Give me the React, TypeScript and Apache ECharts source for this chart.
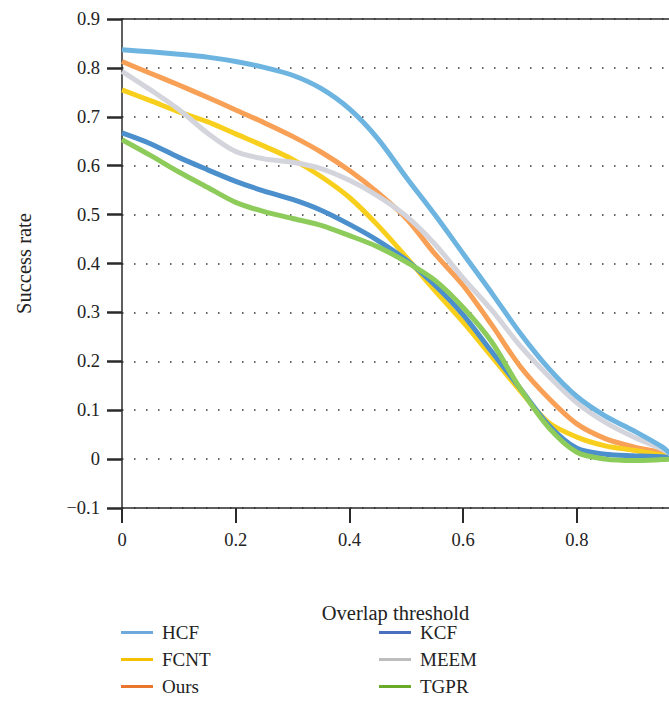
import React, { useEffect, useRef } from "react";
import * as echarts from "echarts";

const xValues = [0, 0.05, 0.1, 0.15, 0.2, 0.25, 0.3, 0.35, 0.4, 0.45, 0.5, 0.55, 0.6, 0.65, 0.7, 0.75, 0.8, 0.85, 0.9, 0.95, 0.965];

const hcf = [0.837, 0.833, 0.828, 0.822, 0.813, 0.801, 0.785, 0.758, 0.716, 0.655, 0.576, 0.5, 0.42, 0.34, 0.258, 0.186, 0.128, 0.088, 0.058, 0.025, 0.01];
const ours = [0.813, 0.789, 0.765, 0.74, 0.714, 0.688, 0.66, 0.628, 0.59, 0.545, 0.492, 0.42, 0.355, 0.275, 0.19, 0.125, 0.072, 0.042, 0.025, 0.013, 0.008];
const meem = [0.793, 0.755, 0.715, 0.667, 0.629, 0.614, 0.607, 0.594, 0.57, 0.538, 0.497, 0.44, 0.37, 0.305, 0.232, 0.17, 0.115, 0.075, 0.045, 0.02, 0.01];
const fcnt = [0.755, 0.733, 0.71, 0.69, 0.665, 0.64, 0.613, 0.578, 0.535, 0.478, 0.413, 0.345, 0.28, 0.21, 0.14, 0.075, 0.045, 0.027, 0.018, 0.008, 0.005];
const kcf = [0.667, 0.645, 0.617, 0.592, 0.568, 0.548, 0.531, 0.509, 0.48, 0.447, 0.407, 0.356, 0.295, 0.22, 0.145, 0.07, 0.022, 0.01, 0.007, 0.005, 0.004];
const tgpr = [0.653, 0.621, 0.587, 0.556, 0.525, 0.506, 0.492, 0.478, 0.457, 0.434, 0.403, 0.366, 0.31, 0.24, 0.145, 0.065, 0.014, 0.0, -0.003, -0.001, 0.0];

const legendLeftNames = ["HCF", "FCNT", "Ours"];
const legendRightNames = ["KCF", "MEEM", "TGPR"];
const lineColors: Record<string, string> = {
  HCF: "#6db5e0",
  FCNT: "#f9cf1e",
  Ours: "#f8a055",
  KCF: "#4b8fcc",
  MEEM: "#d4d4dc",
  TGPR: "#8dcc5a",
};
const legendColors: Record<string, string> = {
  HCF: "#6fa8dc",
  FCNT: "#f5c000",
  Ours: "#e8762d",
  KCF: "#4a6fbf",
  MEEM: "#bdbdbd",
  TGPR: "#6aaa2a",
};
const dataByName: Record<string, number[]> = { HCF: hcf, FCNT: fcnt, Ours: ours, KCF: kcf, MEEM: meem, TGPR: tgpr };
const drawOrder = ["Ours", "FCNT", "KCF", "MEEM", "TGPR", "HCF"];

const FONT = "'Liberation Serif', 'DejaVu Serif', serif";

export default function App() {
  const ref = useRef<HTMLDivElement>(null);
  useEffect(() => {
    if (!ref.current) return;
    const chart = echarts.init(ref.current, undefined, { renderer: "svg" });
    const axisColor = "#2a2a2a";
    const mkLegend = (names: string[], left: number) => ({
      orient: "vertical",
      left,
      top: 623,
      height: 100,
      padding: 0,
      itemWidth: 32,
      itemHeight: 20,
      itemGap: 8,
      icon: "path://M0,8.5L32,8.5L32,11.5L0,11.5Z",
      textStyle: { fontFamily: FONT, fontSize: 19, color: "#222", padding: [0, 0, 0, 4] },
      data: names.map((n) => ({ name: n, itemStyle: { color: legendColors[n] } })),
    });
    chart.setOption({
      animation: false,
      grid: { left: 122, right: 0, top: 19, bottom: 703 - 508 },
      legend: [mkLegend(legendLeftNames, 121), mkLegend(legendRightNames, 379)],
      xAxis: [
        {
          type: "value",
          min: 0,
          max: 0.962,
          interval: 0.2,
          name: "Overlap threshold",
          nameLocation: "middle",
          nameGap: 94,
          nameTextStyle: { fontFamily: FONT, fontSize: 20.5, color: "#222" },
          axisLine: { show: true, onZero: false, lineStyle: { color: axisColor, width: 1.5 } },
          axisTick: { show: true, inside: false, length: 15, lineStyle: { color: axisColor, width: 2 } },
          axisLabel: {
            fontFamily: FONT,
            fontSize: 18.5,
            color: "#222",
            margin: 22,
            showMaxLabel: false,
            formatter: (v: number) => (v > 0.9 ? "" : String(Math.round(v * 10) / 10)),
          },
          splitLine: { show: false },
        },
        {
          type: "value",
          position: "top",
          min: 0,
          max: 0.962,
          axisLine: { show: true, onZero: false, lineStyle: { color: axisColor, width: 1.5 } },
          axisTick: { show: false },
          axisLabel: { show: false },
          splitLine: { show: false },
        },
      ],
      yAxis: {
        type: "value",
        min: -0.1,
        max: 0.9,
        interval: 0.1,
        name: "Success rate",
        nameLocation: "middle",
        nameGap: 88,
        nameTextStyle: { fontFamily: FONT, fontSize: 20.5, color: "#222" },
        axisLine: { show: true, onZero: false, lineStyle: { color: axisColor, width: 1.5 } },
        axisTick: { show: true, inside: false, length: 15, lineStyle: { color: axisColor, width: 2.5 } },
        axisLabel: {
          fontFamily: FONT,
          fontSize: 18.5,
          color: "#222",
          margin: 22,
          formatter: (v: number) => {
            const r = Math.round(v * 10) / 10;
            return r < 0 ? "\u2212" + String(Math.abs(r)) : String(r);
          },
        },
        splitLine: {
          show: true,
          lineStyle: { color: "#333", width: 1.5, type: [1.5, 10.5] },
        },
      },
      series: drawOrder.map((n) => ({
        name: n,
        type: "line",
        smooth: 0.3,
        showSymbol: false,
        symbol: "none",
        clip: true,
        data: xValues.map((x, i) => [x, dataByName[n][i]]),
        lineStyle: { color: lineColors[n], width: 5 },
        itemStyle: { color: lineColors[n] },
        z: 3,
      })),
    });
    return () => chart.dispose();
  }, []);
  return <div ref={ref} style={{ width: 669, height: 703, position: "absolute", left: 0, top: 0 }} />;
}
